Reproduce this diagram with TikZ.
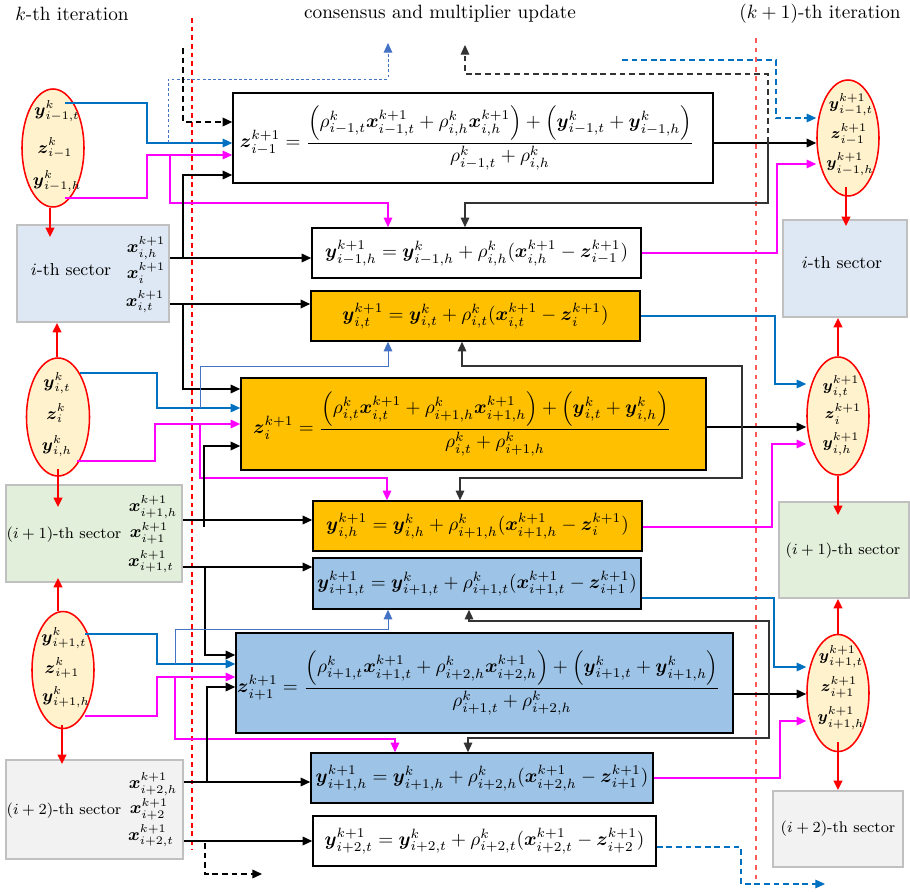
\documentclass[tikz,border=0pt]{standalone}
\usepackage{amsmath}
\usetikzlibrary{arrows.meta,shapes.geometric,calc}
\definecolor{orng}{HTML}{FFC000}
\definecolor{bluebox}{HTML}{9DC3E6}
\definecolor{secA}{HTML}{DEE8F4}
\definecolor{secB}{HTML}{E2EFDA}
\definecolor{secC}{HTML}{F2F2F2}
\definecolor{ellfill}{HTML}{FFF2CC}
\definecolor{bluel}{HTML}{0070C0}
\definecolor{bluelt}{HTML}{4472C4}
\definecolor{mag}{HTML}{FF00FF}
\definecolor{secborder}{HTML}{C0C0C0}
\definecolor{redlt}{HTML}{FF5A5A}
\newcommand{\vx}{\boldsymbol{x}}
\newcommand{\vy}{\boldsymbol{y}}
\newcommand{\vz}{\boldsymbol{z}}
\newcommand{\pxu}{0.52}
\begin{document}
\begin{tikzpicture}[x=0.52pt,y=-0.52pt,
 arw/.style={-{Triangle[length=5pt,width=4.5pt]}},
 eqbox/.style={draw=black, line width=0.8pt, inner sep=0pt, rectangle},
 secbox/.style={draw=secborder, line width=0.9pt, inner sep=0pt, rectangle},
 ell/.style={ellipse, draw=red, line width=0.8pt, fill=ellfill, inner sep=0pt},
 blk/.style={arw, line width=0.7pt, black},
 blkl/.style={arw, line width=0.6pt, black!80},
 blu/.style={arw, line width=0.6pt, bluel},
 blt/.style={arw, line width=0.5pt, bluelt},
 mg/.style={arw, line width=0.6pt, mag},
 redarr/.style={arw, line width=1pt, red},
 dsh/.style={dash pattern=on 3pt off 2pt},
 lbl/.style={inner sep=0pt, font=\small},
 rlbl/.style={inner sep=0pt, font=\footnotesize},
 sname/.style={inner sep=0pt, font=\small},
 snamef/.style={inner sep=0pt, font=\footnotesize},
 eqtext/.style={inner sep=0pt},
]
\useasboundingbox (0,0) rectangle (910,892);

% iteration separators
\draw[red, line width=0.6pt, dash pattern=on 2.5pt off 2pt] (192,18) -- (192,850);
\draw[redlt, line width=0.8pt, dash pattern=on 2.5pt off 2.5pt] (756,38) -- (756,884);

% top labels
\node (L1) at (72,14) {$k$-th iteration};
\node (L2) at (440,14) {consensus and multiplier update};
\node (L3) at (820,14) {$(k+1)$-th iteration};

% equation boxes
\node[eqbox, fill=white, minimum width=480*\pxu pt, minimum height=90*\pxu pt] (B1) at (473,138) {};
\node[eqtext] (B1t) at (467,138)
 {$\vz^{k+1}_{i-1} = \dfrac{\Big(\rho^k_{i-1,t}\vx^{k+1}_{i-1,t} + \rho^k_{i,h}\vx^{k+1}_{i,h}\Big) + \Big(\vy^k_{i-1,t} + \vy^k_{i-1,h}\Big)}{\rho^k_{i-1,t} + \rho^k_{i,h}}$};
\node[eqbox, fill=white, minimum width=329*\pxu pt, minimum height=50*\pxu pt] (B2) at (476.5,253)
 {$\vy^{k+1}_{i-1,h} = \vy^k_{i-1,h} + \rho^k_{i,h}(\vx^{k+1}_{i,h} - \vz^{k+1}_{i-1})$};
\node[eqbox, fill=orng, minimum width=329*\pxu pt, minimum height=50*\pxu pt] (B3) at (475.5,316)
 {$\vy^{k+1}_{i,t} = \vy^k_{i,t} + \rho^k_{i,t}(\vx^{k+1}_{i,t} - \vz^{k+1}_{i})$};
\node[eqbox, fill=orng, minimum width=465*\pxu pt, minimum height=92*\pxu pt] (B4) at (473.5,424) {};
\node[eqtext] (B4t) at (462,424)
 {$\vz^{k+1}_{i} = \dfrac{\Big(\rho^k_{i,t}\vx^{k+1}_{i,t} + \rho^k_{i+1,h}\vx^{k+1}_{i+1,h}\Big) + \Big(\vy^k_{i,t} + \vy^k_{i,h}\Big)}{\rho^k_{i,t} + \rho^k_{i+1,h}}$};
\node[eqbox, fill=orng, minimum width=329*\pxu pt, minimum height=50*\pxu pt] (B5) at (477.5,526)
 {$\vy^{k+1}_{i,h} = \vy^k_{i,h} + \rho^k_{i+1,h}(\vx^{k+1}_{i+1,h} - \vz^{k+1}_{i})$};
\node[eqbox, fill=bluebox, minimum width=328*\pxu pt, minimum height=51*\pxu pt] (B6) at (477,583.5)
 {$\vy^{k+1}_{i+1,t} = \vy^k_{i+1,t} + \rho^k_{i+1,t}(\vx^{k+1}_{i+1,t} - \vz^{k+1}_{i+1})$};
\node[eqbox, fill=bluebox, minimum width=497*\pxu pt, minimum height=100*\pxu pt] (B7) at (484.5,683) {};
\node[eqtext] (B7t) at (479,683)
 {$\vz^{k+1}_{i+1} = \dfrac{\Big(\rho^k_{i+1,t}\vx^{k+1}_{i+1,t} + \rho^k_{i+2,h}\vx^{k+1}_{i+2,h}\Big) + \Big(\vy^k_{i+1,t} + \vy^k_{i+1,h}\Big)}{\rho^k_{i+1,t} + \rho^k_{i+2,h}}$};
\node[eqbox, fill=bluebox, minimum width=342*\pxu pt, minimum height=50*\pxu pt] (B8) at (482,778)
 {$\vy^{k+1}_{i+1,h} = \vy^k_{i+1,h} + \rho^k_{i+2,h}(\vx^{k+1}_{i+2,h} - \vz^{k+1}_{i+1})$};
\node[eqbox, fill=white, minimum width=343*\pxu pt, minimum height=50*\pxu pt] (B9) at (484.5,841)
 {$\vy^{k+1}_{i+2,t} = \vy^k_{i+2,t} + \rho^k_{i+2,t}(\vx^{k+1}_{i+2,t} - \vz^{k+1}_{i+2})$};

% left ellipses (k-th iteration)
\node[ell, minimum width=62*\pxu pt, minimum height=118*\pxu pt] (E1) at (53,148) {};
\node[lbl] (E1a) at (57,111) {$\vy^k_{i-1,t}$};
\node[lbl] (E1b) at (55,148) {$\vz^k_{i-1}$};
\node[lbl] (E1c) at (57,181) {$\vy^k_{i-1,h}$};
\node[ell, minimum width=63*\pxu pt, minimum height=118*\pxu pt] (E2) at (58,417) {};
\node[lbl] (E2a) at (57,383) {$\vy^k_{i,t}$};
\node[lbl] (E2b) at (56,413) {$\vz^k_{i}$};
\node[lbl] (E2c) at (57,446) {$\vy^k_{i,h}$};
\node[ell, minimum width=62*\pxu pt, minimum height=117*\pxu pt] (E3) at (63,670) {};
\node[lbl] (E3a) at (64,638) {$\vy^k_{i+1,t}$};
\node[lbl] (E3b) at (62,668) {$\vz^k_{i+1}$};
\node[lbl] (E3c) at (66,697) {$\vy^k_{i+1,h}$};

% left sectors
\node[secbox, fill=secA, minimum width=152*\pxu pt, minimum height=97*\pxu pt] (S1) at (93,273.5) {};
\node[sname] (S1n) at (71,270) {$i$-th sector};
\node[lbl] (S1a) at (146,248) {$\vx^{k+1}_{i,h}$};
\node[lbl] (S1b) at (146,273) {$\vx^{k+1}_{i}$};
\node[lbl] (S1c) at (145,302) {$\vx^{k+1}_{i,t}$};
\node[secbox, fill=secB, minimum width=176*\pxu pt, minimum height=97*\pxu pt] (S2) at (94,533.5) {};
\node[snamef] (S2n) at (64,535) {$(i+1)$-th sector};
\node[lbl] (S2a) at (153,507) {$\vx^{k+1}_{i+1,h}$};
\node[lbl] (S2b) at (149,533) {$\vx^{k+1}_{i+1}$};
\node[lbl] (S2c) at (151,562) {$\vx^{k+1}_{i+1,t}$};
\node[secbox, fill=secC, minimum width=177*\pxu pt, minimum height=99*\pxu pt] (S3) at (94.5,809.5) {};
\node[snamef] (S3n) at (64,811) {$(i+2)$-th sector};
\node[lbl] (S3a) at (153,784) {$\vx^{k+1}_{i+2,h}$};
\node[lbl] (S3b) at (149,809) {$\vx^{k+1}_{i+2}$};
\node[lbl] (S3c) at (151,836) {$\vx^{k+1}_{i+2,t}$};

% right ellipses (k+1)
\node[ell, minimum width=62*\pxu pt, minimum height=116*\pxu pt] (F1) at (848,138) {};
\node[rlbl] (F1a) at (851,105) {$\vy^{k+1}_{i-1,t}$};
\node[rlbl] (F1b) at (849,134) {$\vz^{k+1}_{i-1}$};
\node[rlbl] (F1c) at (850,164) {$\vy^{k+1}_{i-1,h}$};
\node[ell, minimum width=62*\pxu pt, minimum height=118*\pxu pt] (F2) at (838,416) {};
\node[rlbl] (F2a) at (841,387) {$\vy^{k+1}_{i,t}$};
\node[rlbl] (F2b) at (843,414) {$\vz^{k+1}_{i}$};
\node[rlbl] (F2c) at (841,444) {$\vy^{k+1}_{i,h}$};
\node[ell, minimum width=62*\pxu pt, minimum height=117*\pxu pt] (F3) at (838,693) {};
\node[rlbl] (F3a) at (841,657) {$\vy^{k+1}_{i+1,t}$};
\node[rlbl] (F3b) at (839,687) {$\vz^{k+1}_{i+1}$};
\node[rlbl] (F3c) at (841,718) {$\vy^{k+1}_{i+1,h}$};

% right sectors
\node[secbox, fill=secA, minimum width=124*\pxu pt, minimum height=97*\pxu pt] (R1) at (845,268.5) {};
\node[sname] (R1n) at (842,263) {$i$-th sector};
\node[secbox, fill=secB, minimum width=130*\pxu pt, minimum height=96*\pxu pt] (R2) at (844,550) {};
\node[snamef] (R2n) at (843,551) {$(i+1)$-th sector};
\node[secbox, fill=secC, minimum width=130*\pxu pt, minimum height=76*\pxu pt] (R3) at (838,829) {};
\node[snamef] (R3n) at (838,829) {$(i+2)$-th sector};

% free ends
\coordinate (T0) at (183,48);
\coordinate (T1) at (388,43);
\coordinate (T2) at (465,45);
\coordinate (T3) at (622,60);
\coordinate (T4) at (825,884);
\coordinate (T5) at (262,874);

% red arrows
\draw[redarr] (E1.south -| 50,0) -- ($(S1.north -| 50,0)+(0,13)$);
\draw[redarr] (E2.north -| 57,0) -- (S1.south -| 57,0);
\draw[redarr] ($(E2.south -| 58,0)+(0,-8)$) -- ($(S2.north -| 58,0)+(0,23)$);
\draw[redarr] (E3.north -| 58,0) -- ($(S2.south -| 58,0)+(0,-5)$);
\draw[redarr] ($(E3.south -| 62,0)+(0,-4)$) -- ($(S3.north -| 62,0)+(0,5)$);
\draw[redarr] ($(F1.south -| 846,0)+(0,-10)$) -- ($(R1.north -| 846,0)+(0,7)$);
\draw[redarr] (F2.north) -- (R1.south -| F2.north);
\draw[redarr] (F2.south) -- ($(R2.north -| F2.south)+(0,14)$);
\draw[redarr] (F3.north) -- (R2.south -| F3.north);
\draw[redarr] ($(F3.south)+(0,-10)$) -- (R3.north -| F3.south);

% block i-1
\draw[blu] (65,103) -| (147,143) -- (B1.west |- 0,143);
\draw[mg] (65,198) -| (147,155) -- (B1.west |- 0,155);
\draw[mg] (170,155) |- (388,203) -- (B2.north -| 388,0);
\draw[blt, dash pattern=on 1.5pt off 1.2pt] (168,143) |- (388,79) -- (T1);
\draw[blk, dsh] (T0) |- (B1.west |- 0,122);
\draw[blk] (S1.east |- 0,258) -- (B2.west |- 0,258);
\draw[blk] (183,258) |- (B1.west |- 0,175);
\draw[blk] (S1.east |- 0,304) -- (B3.west |- 0,304);
\draw[blk] (183,304) |- (B4.west |- 0,389);
\draw[blk] (B1.east |- 0,143) -- (F1.west |- 0,143);
\draw[blkl, dsh] (768,143) |- (465,74) -- (T2);
\draw[blkl] (768,143) |- (465,203) -- (B2.north -| 465,0);
\draw[blu, dsh] (T3) -| (776,118) -- (F1.west |- 0,118);
\draw[mg] (B2.east |- 0,253) -| (777,164) -- (F1.west |- 0,164);

% block i
\draw[blu] (B3.east |- 0,316) -| (775,384) -- (F2.west |- 0,384);
\draw[blk] (B4.east |- 0,427) -- (F2.west |- 0,427);
\draw[blkl] (742,427) |- (462,366) -- (B3.south -| 462,0);
\draw[blkl] (742,427) |- (460,478) -- (B5.north -| 460,0);
\draw[mg] (B5.east |- 0,527) -| (772,444) -- (F2.west |- 0,444);
\draw[blu] (80,373) -| (157,408) -- (B4.west |- 0,408);
\draw[blt] (200,408) |- (388,366) -- (B3.south -| 388,0);
\draw[mg] (77,461) -| (155,424) -- (B4.west |- 0,424);
\draw[mg] (200,424) |- (387,478) -- (B5.north -| 387,0);
\draw[blk] (S2.east |- 0,520) -- (B5.west |- 0,520);
\draw[blk] (204,527) |- (B4.west |- 0,446);
\draw[blk] (S2.east |- 0,567) -- (B6.west |- 0,567);
\draw[blk] (205,567) |- (B7.west |- 0,655);

% block i+1
\draw[blu] (B6.east |- 0,598) -| (774,667) -- (F3.west |- 0,667);
\draw[blk] (B7.east |- 0,694) -- (F3.west |- 0,694);
\draw[blkl] (769,694) |- (469,621) -- (B6.south -| 469,0);
\draw[blkl] (769,694) |- (468,738) -- (B8.north -| 468,0);
\draw[mg] (B8.east |- 0,778) -| (780,721) -- (F3.west |- 0,721);
\draw[blu, dsh] (B9.east |- 0,847) -| (741,884) -- (T4);
\draw[blu] (85,634) -| (157,664) -- (B7.west |- 0,664);
\draw[blt] (175,664) |- (388,629) -- (B6.south -| 388,0);
\draw[mg] (85,716) -| (157,677) -- (B7.west |- 0,677);
\draw[mg] (175,677) |- (395,739) -- (B8.north -| 395,0);
\draw[blk] (S3.east |- 0,782) -- (B8.west |- 0,782);
\draw[blk] (207,782) |- (B7.west |- 0,687);
\draw[blk] (S3.east |- 0,841) -- (B9.west |- 0,841);
\draw[blk, dsh] (205,843) |- (T5);
\end{tikzpicture}
\end{document}
